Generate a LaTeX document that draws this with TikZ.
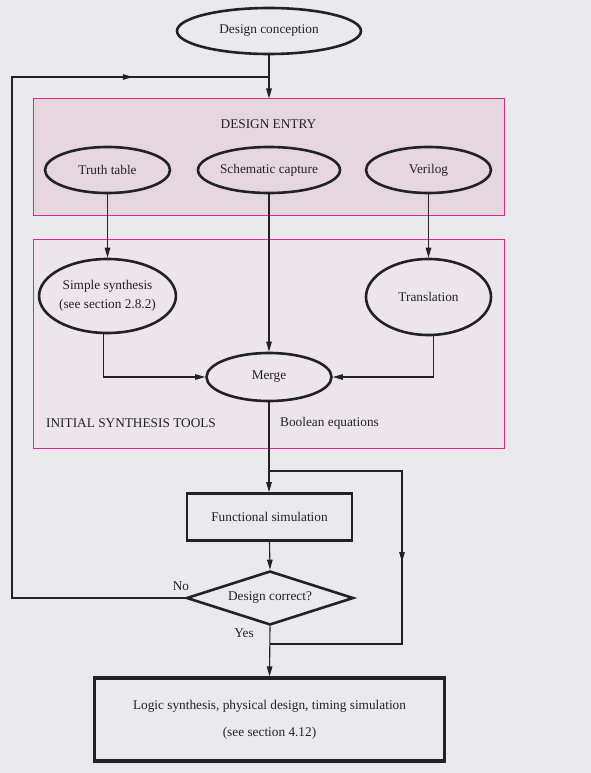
\documentclass[tikz,border=0pt]{standalone}
\usepackage{fontspec}
\setmainfont{Liberation Serif}
\usetikzlibrary{shapes.geometric,arrows.meta,decorations.markings}
\definecolor{bg}{RGB}{234,234,236}
\definecolor{entryfill}{RGB}{230,215,223}
\definecolor{toolfill}{RGB}{236,230,234}
\definecolor{frame}{RGB}{222,40,140}
\definecolor{ink}{RGB}{34,34,36}
\begin{document}
\begin{tikzpicture}[x=1pt,y=-1pt,
  font=\fontsize{13.3}{16}\selectfont,
  tip/.tip={Triangle[length=10pt,width=5.5pt]},
  oval/.style={ellipse,draw=ink,line width=2.6pt,inner sep=0pt,text=ink,align=center},
  stepbox/.style={rectangle,draw=ink,line width=2.6pt,inner sep=0pt,text=ink,align=center},
  group/.style={rectangle,draw=frame,line width=1pt,inner sep=0pt},
  lbl/.style={text=ink,inner sep=0pt},
  conn/.style={draw=ink,line width=1.1pt},
  arr/.style={conn,-tip},
  midarrow/.style={postaction={decorate},decoration={markings,mark=at position #1 with {\arrow{tip}}}}
]
% page and background
\useasboundingbox (0,0) rectangle (591,773);
\fill[bg] (0,0) rectangle (591,773);

% group frames
\node[group,fill=entryfill,minimum width=471pt,minimum height=116pt] (entrybox) at (268.5,157) {};
\node[group,fill=toolfill,minimum width=471pt,minimum height=209pt] (toolbox) at (268.5,343.5) {};
\node[lbl] (entrytitle) at (268.5,124) {DESIGN ENTRY};
\node[lbl,anchor=west] (tooltitle) at (46,423) {INITIAL SYNTHESIS TOOLS};
\node[lbl,anchor=west] (booltxt) at (280,423) {Boolean equations};

% nodes
\node[oval,minimum width=184pt,minimum height=46pt] (conc) at (269,31) {Design conception};
\node[oval,minimum width=125pt,minimum height=46pt] (truth) at (107.5,170) {Truth table};
\node[oval,minimum width=142pt,minimum height=46pt] (schem) at (269,170) {Schematic capture};
\node[oval,minimum width=125pt,minimum height=46pt] (veri) at (428.5,170) {Verilog};
\node[oval,minimum width=126pt,minimum height=74pt] (simple) at (107.5,296) {Simple synthesis\\[3pt](see section 2.8.2)};
\node[oval,minimum width=125pt,minimum height=76pt] (trans) at (428.5,297) {Translation};
\node[oval,minimum width=125pt,minimum height=48pt] (merge) at (269,377) {Merge};
\node[stepbox,minimum width=165pt,minimum height=47pt] (funsim) at (269.5,517) {Functional simulation};
\node[diamond,aspect=3.1,draw=ink,line width=2.6pt,inner sep=0pt,text=ink,
      minimum width=167pt,minimum height=54pt] (check) at (270,598) {Design correct?};
\node[stepbox,line width=3.2pt,minimum width=350pt,minimum height=83pt] (final) at (269.5,719.5)
  {Logic synthesis, physical design, timing simulation\\[11pt](see section 4.12)};
\node[lbl] (nolbl) at (181,586) {No};
\node[lbl] (yeslbl) at (244,633) {Yes};

% junction points
\coordinate (entryjoin) at (269,77);
\coordinate (loopbottom) at (12,598);
\coordinate (looptop) at (12,77);
\coordinate (split) at (269,471);
\coordinate (bypasstop) at (402,471);
\coordinate (bypassbottom) at (402,644);
\coordinate (rejoin) at (270,644);

% connectors
\draw[arr] (conc.south) -- (entrybox.north -| conc.south);
\draw[conn,midarrow=815pt] (check.west) -- (loopbottom) -- (looptop) -- (entryjoin);
\draw[arr] (truth.south) -- (simple.north);
\draw[arr] (schem.south) -- (merge.north);
\draw[arr] (veri.south) -- (trans.north);
\draw[arr] (simple.-96) |- (merge.west);
\draw[arr] (trans.-83) |- (merge.east);
\draw[arr] (merge.south) -- (split) -- (split |- funsim.north);
\draw[conn,midarrow=224pt] (split) -- (bypasstop) -- (bypassbottom) -- (rejoin);
\draw[arr] (funsim.south) -- (check.north);
\draw[arr] (check.south) -- (final.north);
\end{tikzpicture}
\end{document}
